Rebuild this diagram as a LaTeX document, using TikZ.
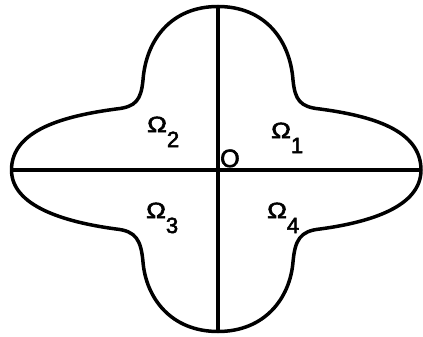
\documentclass[tikz,border=0pt]{standalone}
\usepackage{fontspec}
\setmainfont{Liberation Sans}
\newfontfamily\labfont[FakeBold=2.5]{Liberation Sans}
\usepackage{graphicx}
\newcommand\omsub[1]{\scalebox{1.2}[1]{Ω}\raisebox{-15pt}{#1}}
\begin{document}
\begin{tikzpicture}[x=1pt,y=-1pt,
  outline/.style={line width=3.5pt,line join=round},
  axis/.style={line width=3.5pt},
  region/.style={anchor=base west,inner sep=0pt,font=\labfont\fontsize{22}{22}\selectfont},
  origin/.style={anchor=base west,inner sep=0pt,font=\labfont\fontsize{25}{25}\selectfont}]
\useasboundingbox (0,0) rectangle (423,337);
\coordinate (T) at (218,6.5);
\coordinate (B) at (218,331.5);
\coordinate (L) at (11.5,170);
\coordinate (R) at (421,170);
\draw[outline] (T)
  .. controls (265,6.5) and (290,40) .. (293,80)
  .. controls (295,100) and (300,107) .. (320,109)
  .. controls (372,116) and (421,130) .. (R)
  .. controls (421,206) and (372,222) .. (320,229)
  .. controls (300,231) and (295,240) .. (293,262)
  .. controls (290,298) and (265,331.5) .. (B)
  .. controls (171,331.5) and (146,298) .. (143,262)
  .. controls (141,240) and (136,231) .. (116,229)
  .. controls (64,222) and (11.5,206) .. (L)
  .. controls (11.5,130) and (64,116) .. (116,109)
  .. controls (136,107) and (141,100) .. (143,80)
  .. controls (146,40) and (171,6.5) .. (T) -- cycle;
\draw[axis] (L) -- (R);
\draw[axis] (T) -- (B);
\node[region] (o2) at (147,132) {\omsub{2}};
\node[region] (o1) at (271,138) {\omsub{1}};
\node[region] (o3) at (146,218) {\omsub{3}};
\node[region] (o4) at (267,218) {\omsub{4}};
\node[origin] (O) at (220,167) {O};
\end{tikzpicture}
\end{document}
